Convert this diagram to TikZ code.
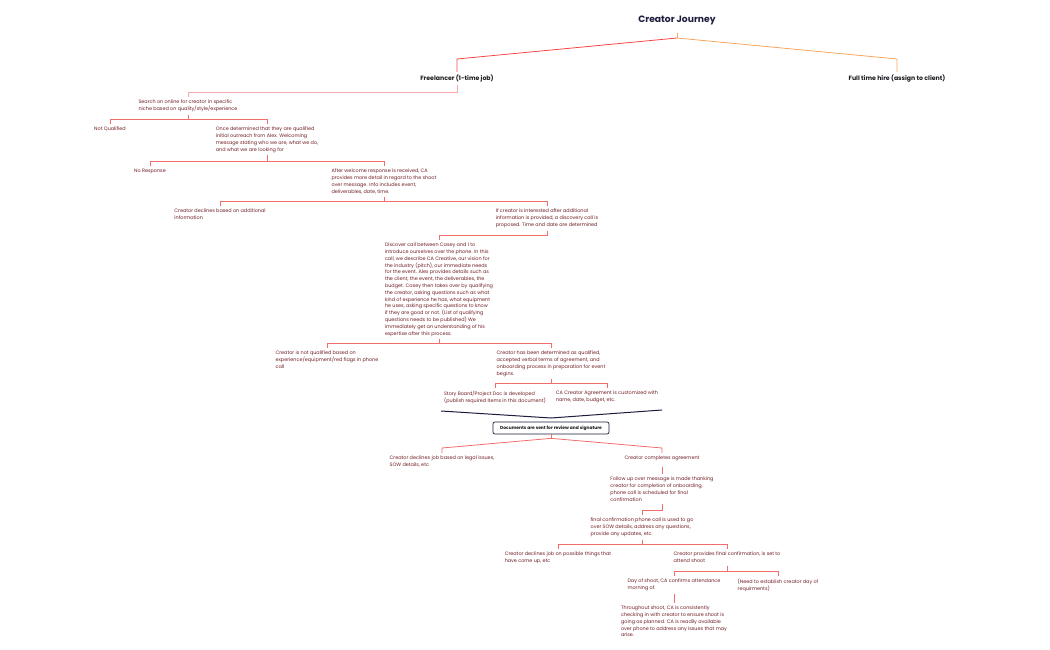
\documentclass[tikz,border=0pt]{standalone}
\usepackage{fontspec}
\setmainfont{Poppins}

\definecolor{navy}{RGB}{28,28,62}
\definecolor{ink}{RGB}{25,25,30}
\definecolor{maroon}{RGB}{112,30,36}
\definecolor{salmon}{RGB}{243,108,108}
\definecolor{blush}{RGB}{248,168,168}
\definecolor{tangerine}{RGB}{246,166,96}
\definecolor{scarlet}{RGB}{246,70,70}

\tikzset{
	note/.style={font=\fontsize{4.9}{6.8}\selectfont, text=maroon, align=left,
		inner sep=0pt, outer sep=3pt, anchor=north},
	head/.style={font=\fontsize{6.2}{7.4}\selectfont\bfseries, text=ink,
		inner sep=0pt, outer sep=3pt, anchor=north},
	link/.style={draw=salmon, line width=0.8pt},
	docbox/.style={draw=navy, line width=0.7pt, rounded corners=2pt, text=ink,
		font=\fontsize{4.4}{5}\selectfont\bfseries, minimum width=116pt,
		minimum height=12pt, inner sep=0pt}
}

\begin{document}
\begin{tikzpicture}[x=1pt,y=-1pt]
	\useasboundingbox (0,0) rectangle (1050,650);

	% top of the tree
	\node[font=\fontsize{9.2}{11}\selectfont\bfseries, text=navy] (journey) at (677,20) {Creator Journey};
	\node[head] (free) at (457,72) {Freelancer (1-time job)};
	\node[head] (full) at (897,72) {Full time hire (assign to client)};
	\coordinate (fork) at (677,38);
	\draw[line width=0.8pt, tangerine] (fork) -- ++(0,-5);
	\draw[line width=0.8pt, scarlet] (fork) -- ([yshift=13pt]free.north) -- (free.north);
	\draw[line width=0.8pt, tangerine] (fork) -- ([yshift=13pt]full.north) -- (full.north);

	% freelancer branch
	\node[note] (search) at (188,97) {Search on online for creator in specific\\niche based on quality/style/experience};
	\node[note] (notq) at (110,124) {Not Qualified};
	\node[note] (outreach) at (267,124) {Once determined that they are qualified\\initial outreach from Alex. Welcoming\\message stating who we are, what we do,\\and what we are looking for};
	\node[note] (noresp) at (150,166) {No Response};
	\node[note] (welcome) at (384,166) {After welcome response is received, CA\\provides more detail in regard to the shoot\\over message. Info includes event,\\deliverables, date, time.};
	\node[note] (declines) at (220,206) {Creator declines based on additional\\information};
	\node[note] (interested) at (547,206) {If creator is interested after additional\\information is provided, a discovery call is\\proposed. Time and date are determined};
	\node[note] (discover) at (439,240) {Discover call between Casey and I to\\introduce ourselves over the phone. In this\\call, we describe CA Creative, our vision for\\the industry (pitch), our immediate needs\\for the event. Alex provides details such as\\the client, the event, the deliverables, the\\budget. Casey then takes over by qualifying\\the creator, asking questions such as what\\kind of experience he has, what equipment\\he uses, asking specific questions to know\\if they are good or not. (List of qualifying\\questions needs to be published) We\\immediately get an understanding of his\\expertise after this process.};
	\node[note] (notqual) at (327,348) {Creator is not qualified based on\\experience/equipment/red flags in phone\\call};
	\node[note] (qualified) at (551,348) {Creator has been determined as qualified,\\accepted verbal terms of agreement, and\\onboarding process in preparation for event\\begins.};
	\node[note] (storyboard) at (495,388) {Story Board/Project Doc is developed\\(publish required items in this document)};
	\node[note] (agreement) at (607,388) {CA Creator Agreement is customized with\\name, date, budget, etc.};

	\draw[line width=0.8pt, blush] (free.south) -- ([yshift=5pt]free.south |- search.north) -| (search.north);
	\foreach \kid in {notq,outreach}
		\draw[link] (search.south) -- ([yshift=5pt]search.south |- \kid.north) -| (\kid.north);
	\foreach \kid in {noresp,welcome}
		\draw[link] (outreach.south) -- ([yshift=5pt]outreach.south |- \kid.north) -| (\kid.north);
	\foreach \kid in {declines,interested}
		\draw[link] (welcome.south) -- ([yshift=5pt]welcome.south |- \kid.north) -| (\kid.north);
	\draw[link] (interested.south) -- ([yshift=5pt]interested.south |- discover.north) -| (discover.north);
	\foreach \kid in {notqual,qualified}
		\draw[link] (discover.south) -- ([yshift=5pt]discover.south |- \kid.north) -| (\kid.north);
	\foreach \kid in {storyboard,agreement}
		\draw[link] (qualified.south) -- ([yshift=5pt]qualified.south |- \kid.north) -| (\kid.north);

	% documents merge
	\coordinate (mergeL) at (441,411);
	\coordinate (mergeM) at (551,418);
	\coordinate (mergeR) at (662,410);
	\draw[line width=1pt, navy] (mergeL) -- (mergeM) -- (mergeR);
	\node[docbox] (docs) at (551,428) {Documents are sent for review and signature};

	\node[note] (legal) at (442,453) {Creator declines job based on legal issues,\\SOW details, etc};
	\node[note] (completes) at (662,453) {Creator completes agreement};
	\node[note] (followup) at (662,474) {Follow up over message is made thanking\\creator for completion of onboarding,\\phone call is scheduled for final\\confirmation};
	\node[note] (finalcall) at (642,515) {final confirmation phone call is used to go\\over SOW details, address any questions,\\provide any updates, etc.};
	\node[note] (declinelater) at (558,549) {Creator declines job on possible things that\\have come up, etc};
	\node[note] (confirm) at (727,549) {Creator provides final confirmation, is set to\\attend shoot};
	\node[note] (dayof) at (674,576) {Day of shoot, CA confirms attendance\\morning of.};
	\node[note] (needreq) at (778,576) {(Need to establish creator day of\\requirments)};
	\node[note] (throughout) at (674,603) {Throughout shoot, CA is consistently\\checking in with creator to ensure shoot is\\going as planned. CA is readily available\\over phone to address any issues that may\\arise.};

	\coordinate (docsplit) at ([yshift=-4pt]docs.south);
	\draw[link] (docs.south) -- (docsplit);
	\foreach \kid in {legal,completes}
		\draw[link] (docsplit) -- ([yshift=5pt]\kid.north) -- (\kid.north);
	\draw[link] ([yshift=-3pt]completes.south) -- (followup.north);
	\draw[link] (followup.south) -- ([yshift=5pt]followup.south |- finalcall.north) -| (finalcall.north);
	\foreach \kid in {declinelater,confirm}
		\draw[link] (finalcall.south) -- ([yshift=5pt]finalcall.south |- \kid.north) -| (\kid.north);
	\foreach \kid in {dayof,needreq}
		\draw[link] (confirm.south) -- ([yshift=5pt]confirm.south |- \kid.north) -| (\kid.north);
	\draw[link] (dayof.south) -- (throughout.north);
\end{tikzpicture}
\end{document}
